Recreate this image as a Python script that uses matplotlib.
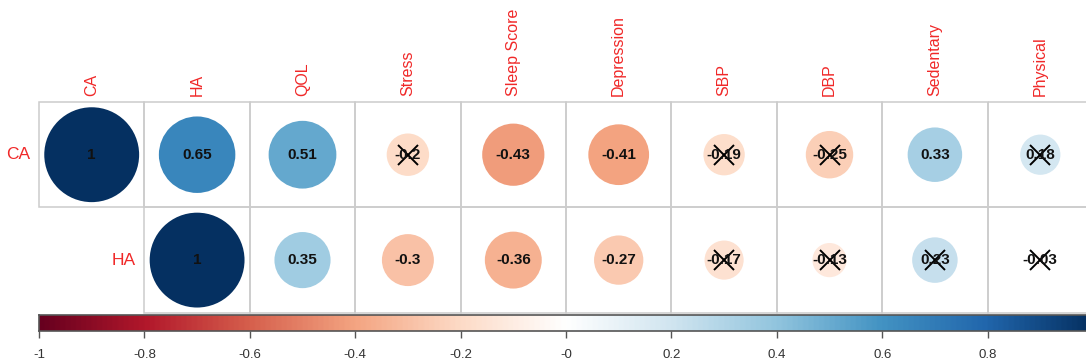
import numpy as np
import matplotlib.pyplot as plt
from matplotlib.colors import LinearSegmentedColormap
from matplotlib.patches import Circle, Rectangle

plt.rcParams['font.family'] = ['Liberation Sans', 'DejaVu Sans']

variables = ["CA", "HA", "QOL", "Stress", "Sleep Score", "Depression",
             "SBP", "DBP", "Sedentary", "Physical"]
row_names = ["CA", "HA"]

# correlation of each row variable with every column variable (upper triangle)
corr_ca = [1, 0.65, 0.51, -0.2, -0.43, -0.41, -0.19, -0.25, 0.33, 0.18]
corr_ha = [None, 1, 0.35, -0.3, -0.36, -0.27, -0.17, -0.13, 0.23, -0.03]
# True where the correlation is not significant (crossed out)
insig_ca = [False, False, False, True, False, False, True, True, False, True]
insig_ha = [False, False, False, False, False, False, True, True, True, True]

rows = [corr_ca, corr_ha]
insig = [insig_ca, insig_ha]

cmap = LinearSegmentedColormap.from_list("rdbu", [
    "#67001F", "#B2182B", "#D6604D", "#F4A582", "#FDDBC7", "#FFFFFF",
    "#D1E5F0", "#92C5DE", "#4393C3", "#2166AC", "#053061"], N=200)

W, H = 1086, 364
fig = plt.figure(figsize=(W / 100, H / 100), dpi=100)

cell = 105.4
left, top = 39, 102
ax = fig.add_axes([left / W, (H - top - 2 * cell) / H,
                   10 * cell / W, 2 * cell / H])
ax.set_xlim(0, 10)
ax.set_ylim(2, 0)
ax.axis("off")

label_col = "#f02828"
for i, (vals, flags) in enumerate(zip(rows, insig)):
    for j, (v, bad) in enumerate(zip(vals, flags)):
        if v is None:
            continue
        ax.add_patch(Rectangle((j, i), 1, 1, fill=False, ec="#cccccc",
                               lw=1.1, clip_on=False))
        r = 0.45 * np.sqrt(abs(v))
        ax.add_patch(Circle((j + 0.5, i + 0.5), r, fc=cmap((v + 1) / 2),
                            ec="none", clip_on=False))
        ax.text(j + 0.5, i + 0.5, f"{v:g}", ha="center", va="center",
                fontsize=11, fontweight="bold", color="#111111")
        if bad:
            ax.plot(j + 0.5, i + 0.5, marker="x", ms=14, mew=1.4,
                    color="black", clip_on=False)
    # row label sits just left of the diagonal cell
    ax.annotate(row_names[i], (i, i + 0.5), xytext=(-6, 0),
                textcoords="offset points", ha="right", va="center",
                fontsize=12.5, color=label_col, annotation_clip=False)

for j, name in enumerate(variables):
    ax.annotate(name, (j + 0.5, 0), xytext=(0, 4), textcoords="offset points",
                rotation=90, ha="center", va="bottom", fontsize=11.5,
                color=label_col, annotation_clip=False)

# colour legend along the bottom
ticks = np.round(np.arange(-1, 0.81, 0.2), 1)
cax = fig.add_axes([left / W, (H - 331) / H, 10 * cell / W, 16 / H])
grad = np.linspace(-1, 1, 400).reshape(1, -1)
cax.imshow(grad, cmap=cmap, aspect="auto", extent=(-1, 1, 0, 1),
           vmin=-1, vmax=1)
cax.set_xlim(-1, 1)
cax.set_yticks([])
cax.set_xticks(ticks)
cax.set_xticklabels([f"{t:g}" for t in ticks])
cax.tick_params(axis="x", direction="out", length=5, width=1,
                color="#555555", labelsize=9.5, labelcolor="#333333", pad=8)
for s in cax.spines.values():
    s.set_color("#555555")
    s.set_linewidth(1.2)

fig.savefig("out.png", dpi=100)
